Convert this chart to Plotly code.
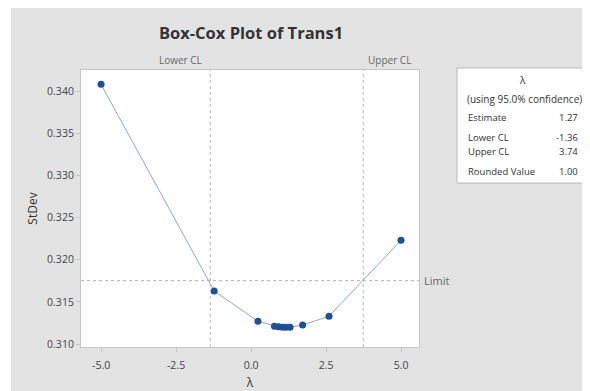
import plotly.graph_objects as go

lam = [-5.0, -1.23, 0.23, 0.78, 0.92, 1.05, 1.17, 1.30, 1.72, 2.60, 5.0]
stdev = [0.3408, 0.3163, 0.3127, 0.31212, 0.31205, 0.31200, 0.31198, 0.31200, 0.31225, 0.3133, 0.3223]
lower_cl = -1.36
upper_cl = 3.74
limit = 0.31752
x_ticks = [-5.0, -2.5, 0.0, 2.5, 5.0]
y_ticks = [0.310, 0.315, 0.320, 0.325, 0.330, 0.335, 0.340]
legend_rows = [("Estimate", "1.27"), ("Lower CL", "-1.36"), ("Upper CL", "3.74"), ("Rounded Value", "1.00")]

OFF = 8  # page body margin
W, H = 590 - OFF, 391 - OFF
L, R, T, B = 81 - OFF, 419 - OFF, 70 - OFF, 347 - OFF
pw, ph = R - L, B - T
def px(x):  # x in reference-page pixels
    return (x - OFF - L) / pw
def py(y):
    return (B - (y - OFF)) / ph

FONT = "Open Sans, DejaVu Sans, sans-serif"
fig = go.Figure()
fig.add_trace(go.Scatter(
    x=lam, y=stdev, mode="lines+markers",
    line=dict(color="#8fa6c9", width=1),
    marker=dict(color="#1f4f96", size=7),
    showlegend=False, hoverinfo="x+y"))

dash = dict(color="#b3b3b3", width=1, dash="3px,3px")
fig.add_shape(type="line", xref="x", yref="paper", x0=lower_cl, x1=lower_cl, y0=0, y1=1, line=dash)
fig.add_shape(type="line", xref="x", yref="paper", x0=upper_cl, x1=upper_cl, y0=0, y1=1, line=dash)
fig.add_shape(type="line", xref="paper", yref="y", x0=0, x1=1, y0=limit, y1=limit, line=dash)

# white strip at left
fig.add_shape(type="rect", xref="paper", yref="paper", x0=px(OFF), x1=px(11), y0=py(400), y1=py(OFF),
              fillcolor="white", line=dict(width=0), layer="below")

# legend box
fig.add_shape(type="rect", xref="paper", yref="paper", x0=px(457), x1=px(588), y0=py(183), y1=py(68),
              fillcolor="white", line=dict(color="#b8b8b8", width=1))

ann = []
ann.append(dict(x=lower_cl, y=1, xref="x", yref="paper", text="Lower CL", showarrow=False,
                xanchor="right", yanchor="bottom", xshift=-6, yshift=1, font=dict(size=10, color="#666")))
ann.append(dict(x=upper_cl, y=1, xref="x", yref="paper", text="Upper CL", showarrow=False,
                xanchor="left", yanchor="bottom", xshift=3, yshift=1, font=dict(size=10, color="#666")))
ann.append(dict(x=1, y=limit, xref="paper", yref="y", text="Limit", showarrow=False,
                xanchor="left", yanchor="middle", xshift=3, font=dict(size=11, color="#666")))
ann.append(dict(x=px(522), y=py(80), xref="paper", yref="paper", text="λ", showarrow=False,
                xanchor="center", yanchor="middle", font=dict(size=10, color="#333")))
ann.append(dict(x=px(524), y=py(99), xref="paper", yref="paper", text="(using 95.0% confidence)",
                showarrow=False, xanchor="center", yanchor="middle", font=dict(size=10, color="#333")))
row_y = [117, 137, 151, 171]
for (lab, val), yy in zip(legend_rows, row_y):
    ann.append(dict(x=px(466), y=py(yy), xref="paper", yref="paper", text=lab, showarrow=False,
                    xanchor="left", yanchor="middle", font=dict(size=9.5, color="#333")))
    ann.append(dict(x=px(580), y=py(yy), xref="paper", yref="paper", text=val, showarrow=False,
                    xanchor="right", yanchor="middle", font=dict(size=9.5, color="#333")))

fig.update_layout(
    width=W, height=H,
    margin=dict(l=L, r=W - R, t=T, b=H - B, pad=0, autoexpand=False),
    paper_bgcolor="#e3e3e3", plot_bgcolor="white",
    font=dict(family=FONT, color="#444"),
    title=dict(text="<b>Box-Cox Plot of Trans1</b>", x=(251 - OFF) / W, xanchor="center",
               y=1 - (33 - OFF) / H, yanchor="middle", font=dict(size=16.5, color="#333")),
    annotations=ann,
)
fig.update_xaxes(range=[-5.67, 5.6], tickvals=x_ticks, ticktext=[f"{v:.1f}" for v in x_ticks],
                 showgrid=False, zeroline=False, showline=True, linecolor="#c4c4c4", mirror=True,
                 ticks="outside", ticklen=4, tickcolor="#c4c4c4", tickfont=dict(size=10.5, color="#444"),
                 ticklabelstandoff=4, automargin=False,
                 title=dict(text="λ", font=dict(size=12, color="#333"), standoff=10))
fig.update_yaxes(range=[0.30965, 0.3425], tickvals=y_ticks, ticktext=[f"{v:.3f}" for v in y_ticks],
                 showgrid=False, zeroline=False, showline=True, linecolor="#c4c4c4", mirror=True,
                 ticks="outside", ticklen=4, tickcolor="#c4c4c4", tickfont=dict(size=10.5, color="#444"),
                 automargin=False,
                 title=dict(text="StDev", font=dict(size=12, color="#333"), standoff=6))

fig.write_html("out.html")
